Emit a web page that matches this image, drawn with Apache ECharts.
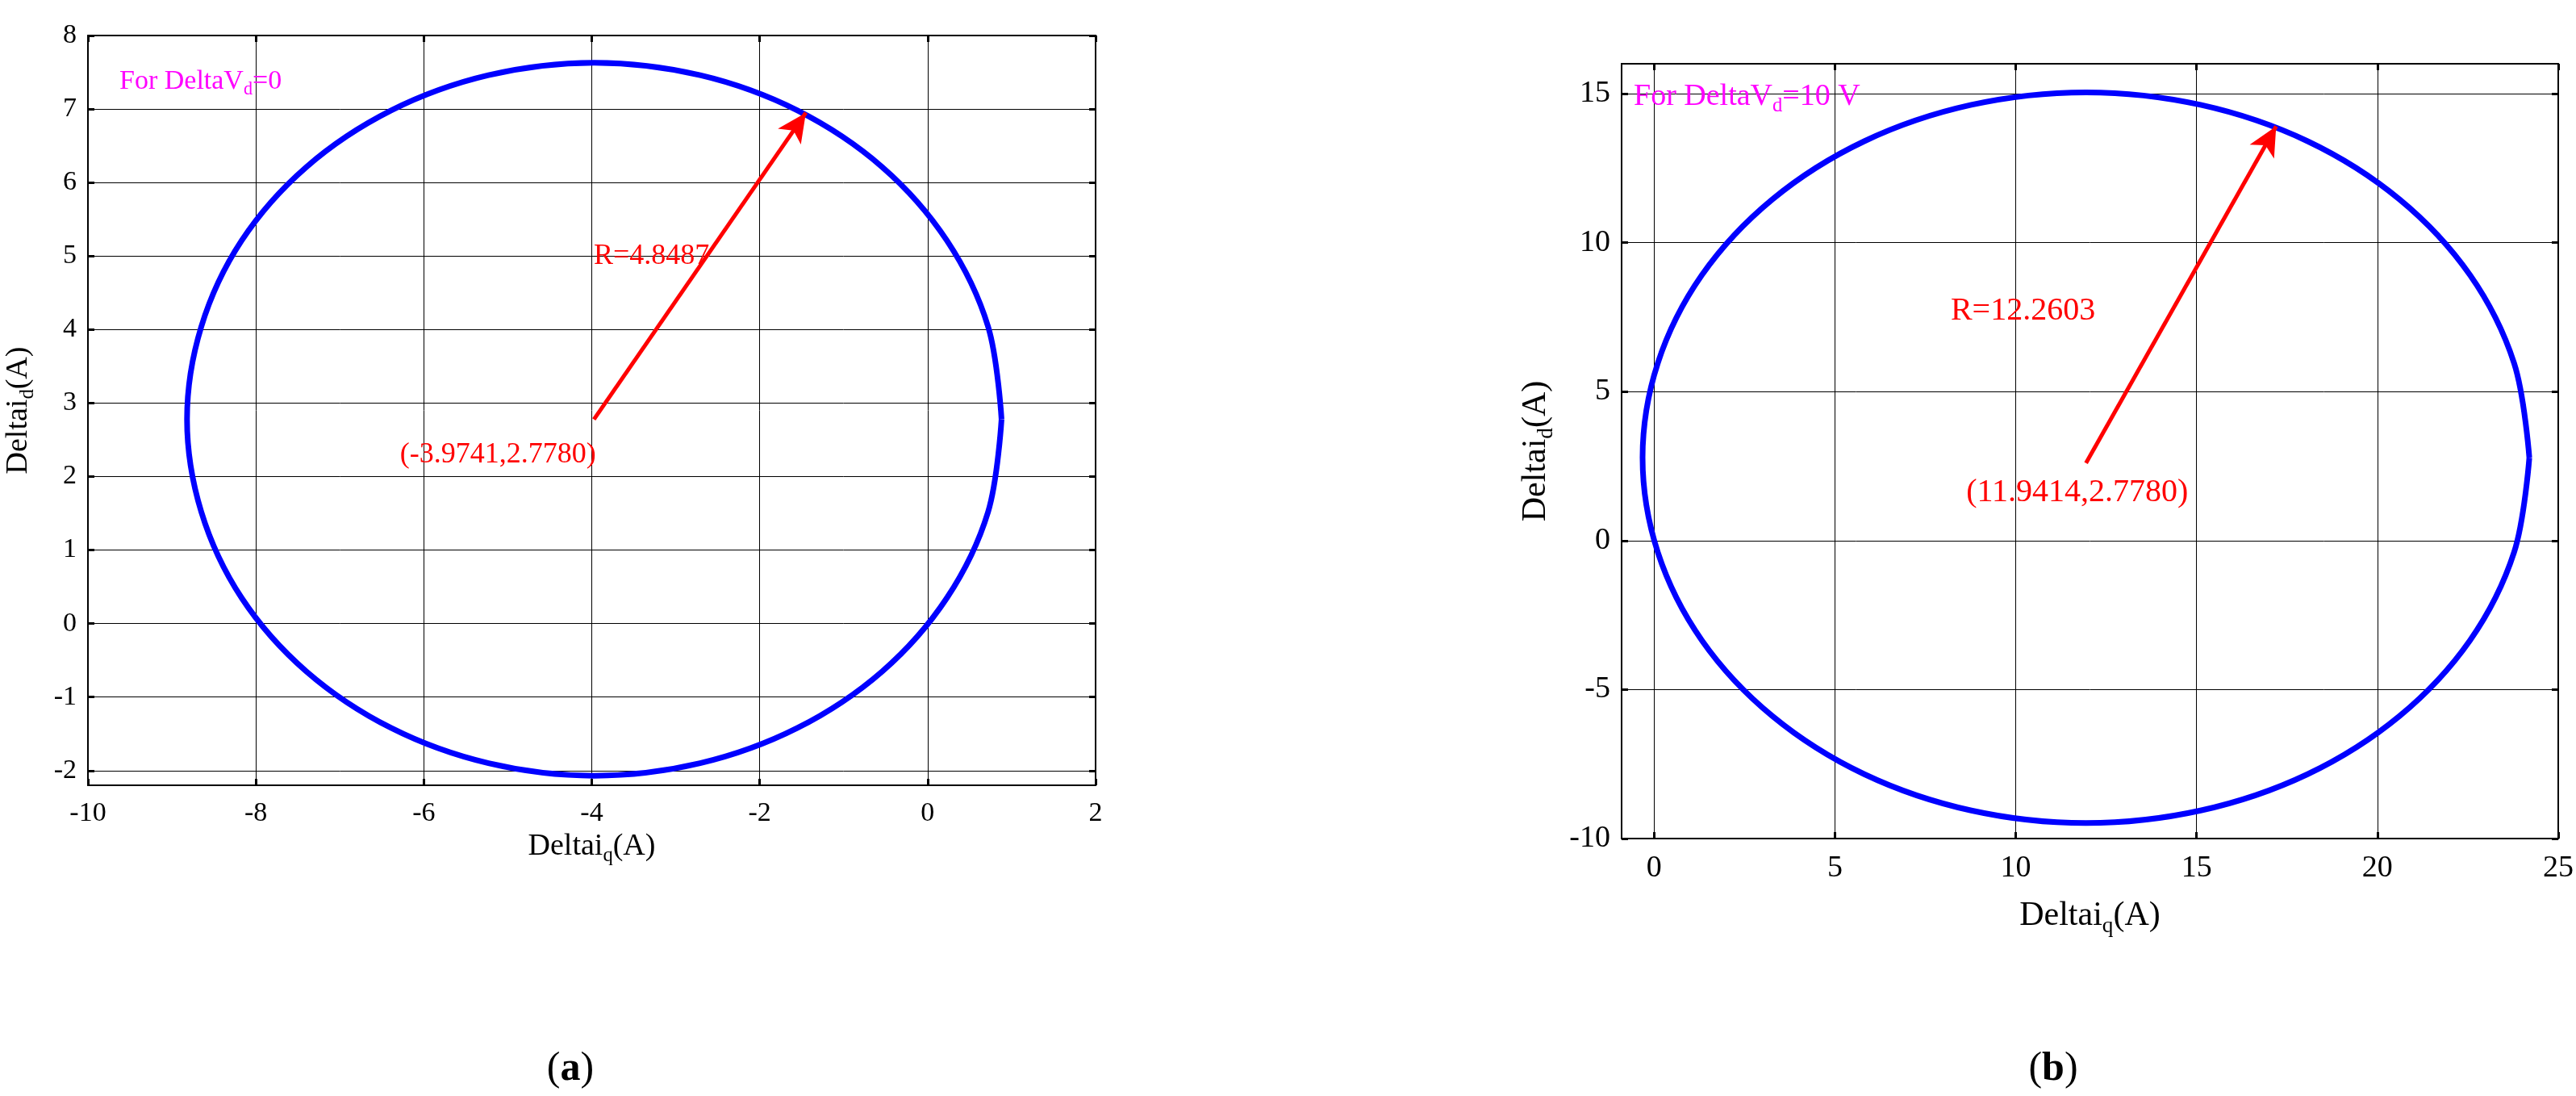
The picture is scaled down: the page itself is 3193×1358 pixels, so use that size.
<!DOCTYPE html>
<html>
<head>
<meta charset="utf-8">
<script src="https://cdn.jsdelivr.net/npm/echarts@6/dist/echarts.min.js"></script>
<style>html,body{margin:0;background:#fff}#c{width:3193px;height:1358px}</style>
</head>
<body>
<div id="c"></div>
<script>
// points (a): DeltaVd = 0
const circleA = [[0.88,2.78],[0.72,4.04],[0.23,5.21],[-0.54,6.21],[-1.55,6.98],[-2.71,7.46],[-3.97,7.63],[-5.23,7.46],[-6.39,6.98],[-7.40,6.21],[-8.17,5.21],[-8.65,4.04],[-8.82,2.78],[-8.65,1.52],[-8.17,0.35],[-7.40,-0.65],[-6.39,-1.42],[-5.23,-1.90],[-3.97,-2.07],[-2.71,-1.90],[-1.55,-1.42],[-0.54,-0.65],[0.23,0.35],[0.72,1.52],[0.88,2.78]];
// points (b): DeltaVd = 10 V
const circleB = [[24.2,2.78],[23.78,5.95],[22.56,8.91],[20.61,11.45],[18.07,13.40],[15.11,14.62],[11.94,15.04],[8.77,14.62],[5.81,13.40],[3.27,11.45],[1.32,8.91],[0.10,5.95],[-0.32,2.78],[0.10,-0.39],[1.32,-3.35],[3.27,-5.89],[5.81,-7.84],[8.77,-9.06],[11.94,-9.48],[15.11,-9.06],[18.07,-7.84],[20.61,-5.89],[22.56,-3.35],[23.78,-0.39],[24.2,2.78]];
const arrowA = [[-3.9741,2.778],[-1.45,6.95]];
const arrowB = [[11.9414,2.6],[17.2,13.9]];
const ticksAx = [-10,-8,-6,-4,-2,0,2];
const ticksAy = [-2,-1,0,1,2,3,4,5,6,7,8];
const ticksBx = [0,5,10,15,20,25];
const ticksBy = [-10,-5,0,5,10,15];

const font = 'Liberation Serif';
const chart = echarts.init(document.getElementById('c'));

function nameRich(fs) {
  return { n: { fontFamily: font, fontSize: fs, color: '#000' }, s: { fontFamily: font, fontSize: fs * 0.65, color: '#000', padding: [fs * 0.6, 0, 0, 0] } };
}
function xAxis(idx, min, max, ticks, show, fs) {
  return {
    type: 'value', gridIndex: idx, min, max, position: show ? 'bottom' : 'top',
    axisLine: { show: true, onZero: false, lineStyle: { color: '#000', width: 2 } },
    axisTick: { show: true, inside: true, length: 8, customValues: ticks, lineStyle: { color: '#000', width: 3 } },
    axisLabel: { show: show, customValues: ticks, color: '#000', fontFamily: font, fontSize: fs, margin: 18 },
    splitLine: { show: show, lineStyle: { color: '#000', width: 1 } },
    name: show ? '{n|Deltai}{s|q}{n|(A)}' : '', nameLocation: 'middle', nameGap: idx ? 70 : 48,
    nameTextStyle: { rich: nameRich(fs + 4) }
  };
}
function yAxis(idx, min, max, ticks, show, fs) {
  return {
    type: 'value', gridIndex: idx, min, max, position: show ? 'left' : 'right',
    axisLine: { show: true, onZero: false, lineStyle: { color: '#000', width: 2 } },
    axisTick: { show: true, inside: true, length: 8, customValues: ticks, lineStyle: { color: '#000', width: 3 } },
    axisLabel: { show: show, customValues: ticks, color: '#000', fontFamily: font, fontSize: fs, margin: 14 },
    splitLine: { show: show, lineStyle: { color: '#000', width: 1 } },
    name: show ? '{n|Deltai}{s|d}{n|(A)}' : '', nameLocation: 'middle', nameGap: idx ? 80 : 62,
    nameTextStyle: { rich: nameRich(fs + 4) }
  };
}
function circle(idx, data) {
  return { type: 'line', xAxisIndex: idx * 2, yAxisIndex: idx * 2, data, smooth: 0.35, showSymbol: false,
    lineStyle: { color: '#0000ff', width: 7 }, silent: true, animation: false };
}
function arrow(idx, pts) {
  return { type: 'line', xAxisIndex: idx * 2, yAxisIndex: idx * 2, data: [], animation: false,
    markLine: { silent: true, symbol: ['none', 'arrow'], symbolSize: [26, 36], label: { show: false },
      lineStyle: { color: '#ff0000', width: 5, type: 'solid' },
      data: [[{ coord: pts[0] }, { coord: pts[1] }]] } };
}

chart.setOption({
  animation: false,
  grid: [
    { left: 109, top: 44, width: 1249, height: 929 },
    { left: 2010, top: 79, width: 1161, height: 960 }
  ],
  xAxis: [xAxis(0, -10, 2, ticksAx, true, 34), xAxis(0, -10, 2, ticksAx, false, 34), xAxis(1, -0.9, 25, ticksBx, true, 38), xAxis(1, -0.9, 25, ticksBx, false, 38)],
  yAxis: [yAxis(0, -2.2, 8, ticksAy, true, 34), yAxis(0, -2.2, 8, ticksAy, false, 34), yAxis(1, -10, 16, ticksBy, true, 38), yAxis(1, -10, 16, ticksBy, false, 38)],
  series: [circle(0, circleA), circle(1, circleB), arrow(0, arrowA), arrow(1, arrowB)]
});

function px(idx, p) { return chart.convertToPixel({ gridIndex: idx }, p); }
function txt(idx, p, text, align, fs) {
  const q = px(idx, p);
  return { type: 'text', x: q[0], y: q[1], style: { text, align, verticalAlign: 'middle', fontFamily: font, fontSize: fs, fill: '#ff0000' } };
}
function magRich(fs) {
  return { n: { fontFamily: font, fontSize: fs, fill: '#ff00ff' }, s: { fontFamily: font, fontSize: fs * 0.65, fill: '#ff00ff', padding: [fs * 0.6, 0, 0, 0] } };
}
const capRich = { b: { fontFamily: font, fontSize: 50, fontWeight: 'bold', fill: '#000' } };
chart.setOption({
  graphic: [
    txt(0, [-2.6, 5.0], 'R=4.8487', 'right', 36),
    txt(0, [-3.95, 2.3], '(-3.9741,2.7780)', 'right', 36),
    txt(1, [8.2, 7.7], 'R=12.2603', 'left', 40),
    txt(1, [11.7, 1.6], '(11.9414,2.7780)', 'center', 40),
    { type: 'text', x: 148, y: 80, style: { text: '{n|For DeltaV}{s|d}{n|=0}', rich: magRich(34) } },
    { type: 'text', x: 2025, y: 96, style: { text: '{n|For DeltaV}{s|d}{n|=10 V}', rich: magRich(38) } },
    { type: 'text', x: 707, y: 1325, style: { text: '({b|a})', align: 'center', verticalAlign: 'middle', fontFamily: font, fontSize: 50, fill: '#000', rich: capRich } },
    { type: 'text', x: 2545, y: 1325, style: { text: '({b|b})', align: 'center', verticalAlign: 'middle', fontFamily: font, fontSize: 50, fill: '#000', rich: capRich } }
  ]
});
</script>
</body>
</html>
